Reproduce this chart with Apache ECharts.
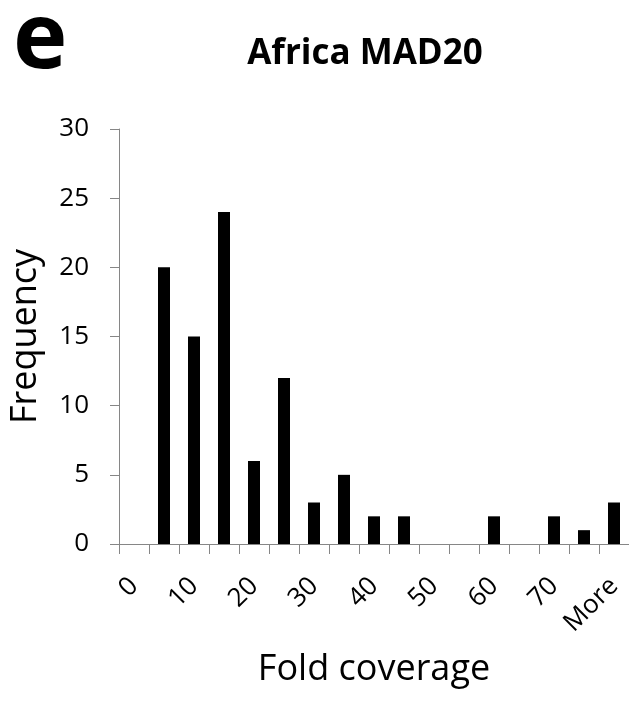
<!DOCTYPE html>
<html>
<head>
<meta charset="utf-8">
<script src="https://cdn.jsdelivr.net/npm/echarts@6/dist/echarts.min.js"></script>
<style>html,body{margin:0;padding:0;background:#fff}#c{width:629px;height:701px}</style>
</head>
<body>
<div id="c"></div>
<script>
var categories = ['0','5','10','15','20','25','30','35','40','45','50','55','60','65','70','75','More'];
var frequency = [0,20,15,24,6,12,3,5,2,2,0,0,2,0,2,1,3];
var yTicks = [0,5,10,15,20,25,30];

var chart = echarts.init(document.getElementById('c'));
var font = '"Open Sans", "Noto Sans", sans-serif';
chart.setOption({
  animation: false,
  backgroundColor: '#fff',
  title: [
    {text: 'Africa MAD20', left: 360, top: 32, textAlign: 'center',
     textStyle: {fontFamily: font, fontWeight: 'bold', fontSize: 35, color: '#000'}},
    {text: 'e', left: 8, top: -9,
     textStyle: {fontFamily: font, fontWeight: 'bold', fontSize: 92, color: '#000'}}
  ],
  grid: {left: 114, top: 129, right: -2, bottom: 157, containLabel: false},
  xAxis: {
    type: 'category',
    data: categories,
    name: 'Fold coverage',
    nameLocation: 'middle',
    nameGap: 108,
    nameTextStyle: {fontFamily: font, fontSize: 36, color: '#000'},
    axisLine: {lineStyle: {color: '#868686', width: 1}},
    axisTick: {show: true, interval: 0, length: 10, lineStyle: {color: '#868686'}},
    axisLabel: {interval: 1, rotate: 45, margin: 38, fontFamily: font, fontSize: 26, color: '#000'}
  },
  yAxis: {
    type: 'value',
    min: yTicks[0], max: yTicks[yTicks.length-1], interval: 5,
    name: 'Frequency',
    nameLocation: 'middle',
    nameGap: 75,
    nameTextStyle: {fontFamily: font, fontSize: 36, color: '#000'},
    splitLine: {show: false},
    axisLine: {show: true, lineStyle: {color: '#868686', width: 1}},
    axisTick: {show: true, length: 9, lineStyle: {color: '#868686'}},
    axisLabel: {margin: 30, fontFamily: font, fontSize: 26, color: '#000'}
  },
  series: [{
    type: 'bar',
    data: frequency,
    barWidth: 12,
    itemStyle: {color: '#000'}
  }]
});
</script>
</body>
</html>
